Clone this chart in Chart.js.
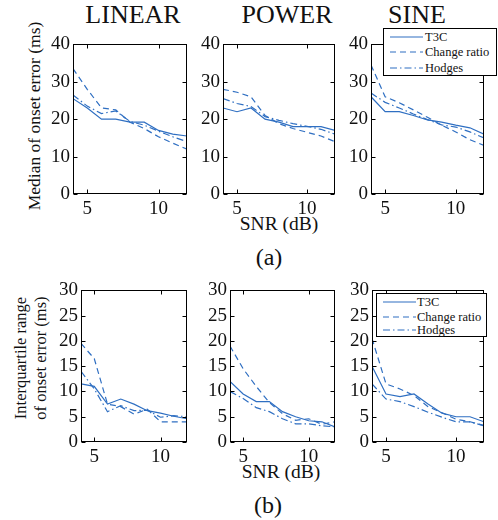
<!DOCTYPE html>
<html>
<head>
<meta charset="utf-8">
<script src="https://cdn.jsdelivr.net/npm/chart.js@4.4.0/dist/chart.umd.min.js"></script>
<style>
  body { margin: 0; background: #fff; width: 498px; height: 520px; position: relative; overflow: hidden;
         font-family: "Liberation Serif", "Times New Roman", serif; color: #111; }
  canvas { position: absolute; }
  .lbl { position: absolute; transform: translate(-50%, -50%); white-space: nowrap; line-height: 1; }
  .rot { position: absolute; transform: translate(-50%, -50%) rotate(-90deg); white-space: nowrap; text-align: center; }
  .legend { position: absolute; border: 1px solid #000; background: #fff; box-sizing: border-box; font-size: 12.5px; }
  .legend .row { position: absolute; left: 0; right: 0; height: 14px; }
  .legend svg { position: absolute; left: 6px; top: 4px; }
  .legend span { position: absolute; left: 41px; top: 0; line-height: 14px; white-space: nowrap; }
</style>
</head>
<body>

<div class="lbl" style="left:133px;top:15px;font-size:26px">LINEAR</div>
<div class="lbl" style="left:287px;top:15px;font-size:26px">POWER</div>
<div class="lbl" style="left:417px;top:15px;font-size:26px">SINE</div>

<div class="rot" style="left:35px;top:116px;font-size:17.5px;line-height:1">Median of onset error (ms)</div>
<div class="rot" style="left:31px;top:358px;font-size:16.5px;line-height:20px">Interquartile range<br>of onset error (ms)</div>

<div class="lbl" style="left:279px;top:224px;font-size:19.5px">SNR (dB)</div>
<div class="lbl" style="left:281px;top:472px;font-size:19.5px">SNR (dB)</div>
<div class="lbl" style="left:269px;top:257px;font-size:24px">(a)</div>
<div class="lbl" style="left:268px;top:505px;font-size:24px">(b)</div>

<canvas id="c1"></canvas>
<canvas id="c2"></canvas>
<canvas id="c3"></canvas>
<canvas id="c4"></canvas>
<canvas id="c5"></canvas>
<canvas id="c6"></canvas>

<script>
// x axis: SNR in dB
const snr = [4, 5, 6, 7, 8, 9, 10, 11, 12];
const xTicks = [5, 10];
const medianTicks = [0, 10, 20, 30, 40];
const iqrTicks = [0, 5, 10, 15, 20, 25, 30];
const seriesNames = ['T3C', 'Change ratio', 'Hodges'];

// (a) median of onset error (ms)
const medLinearT3C    = [25.5, 23, 20, 20, 19.2, 19.2, 17, 16, 15.5];
const medLinearRatio  = [33.5, 28, 23, 22.5, 19.2, 17.5, 15.3, 13.6, 12];
const medLinearHodges = [26.5, 23.5, 21.5, 22.2, 19.4, 18.4, 16.8, 15.3, 14];

const medPowerT3C    = [23, 22, 23, 20, 19.2, 18, 18, 18, 17];
const medPowerRatio  = [28, 27.2, 26, 21, 18.8, 17.5, 16.5, 15.5, 14];
const medPowerHodges = [25.5, 24.2, 23.4, 20.7, 19.7, 18.8, 18.1, 17.3, 16];

const medSineT3C    = [26, 22, 22, 21, 19.8, 19.2, 18.4, 17.7, 16];
const medSineRatio  = [34.5, 26, 24.4, 22.5, 20.5, 18.4, 16.6, 14.5, 13];
const medSineHodges = [27, 24.5, 23, 21.4, 19.9, 18.5, 17.9, 16.6, 15];

// (b) interquartile range of onset error (ms)
const iqrLinearT3C    = [11.5, 11, 7.5, 8.5, 7.5, 6.2, 5.7, 5.1, 4.6];
const iqrLinearRatio  = [19.5, 16.5, 7.5, 7, 5.5, 6.5, 4, 4, 4];
const iqrLinearHodges = [14, 10.5, 6, 7.2, 6.2, 6.3, 4.9, 5.2, 5];

const iqrPowerT3C    = [12, 9.5, 8, 8, 6, 5, 4.2, 4, 3];
const iqrPowerRatio  = [19, 14.5, 11, 7.8, 5.6, 4.3, 4.6, 3.5, 4];
const iqrPowerHodges = [10, 8.6, 6.8, 6, 4.6, 3.6, 3.6, 3.2, 3];

const iqrSineT3C    = [15, 9.5, 9, 9.5, 7.5, 5.7, 5, 5, 4];
const iqrSineRatio  = [20.5, 11.5, 10.5, 9.2, 7, 5.8, 4.5, 4, 3.3];
const iqrSineHodges = [11.5, 8.5, 8, 7, 5.9, 4.9, 4, 4, 3.2];

const BLUE = '#2f6fc2';
const DASHES = [[], [6, 4], [7, 3, 1.5, 3]];
const YW = 40, PT = 10, PR = 3, XH = 24;
const tickFont = { family: '"Liberation Serif", "Times New Roman", serif', size: 19 };

// box frame with inward ticks on all sides, matlab style
const framePlugin = {
  id: 'frame',
  afterDatasetsDraw(chart) {
    const { ctx, chartArea: a, scales: { x, y } } = chart;
    const l = Math.round(a.left) + 0.5, r = Math.round(a.right) - 0.5;
    const t = Math.round(a.top) + 0.5, b = Math.round(a.bottom) - 0.5;
    ctx.save();
    ctx.strokeStyle = '#000';
    ctx.lineWidth = 1;
    ctx.strokeRect(l, t, r - l, b - t);
    ctx.beginPath();
    x.ticks.forEach(tk => {
      const px = Math.round(x.getPixelForValue(tk.value)) + 0.5;
      ctx.moveTo(px, b); ctx.lineTo(px, b - 4);
      ctx.moveTo(px, t); ctx.lineTo(px, t + 4);
    });
    y.ticks.forEach(tk => {
      const py = Math.round(y.getPixelForValue(tk.value)) + 0.5;
      ctx.moveTo(l, py); ctx.lineTo(l + 4, py);
      ctx.moveTo(r, py); ctx.lineTo(r - 4, py);
    });
    ctx.stroke();
    ctx.restore();
  }
};

function makePanel(id, box, series, yTicks) {
  const canvas = document.getElementById(id);
  const w = YW + (box.right - box.left) + PR;
  const h = PT + (box.bottom - box.top) + XH;
  canvas.width = w;
  canvas.height = h;
  canvas.style.left = (box.left - YW) + 'px';
  canvas.style.top = (box.top - PT) + 'px';
  canvas.style.width = w + 'px';
  canvas.style.height = h + 'px';

  return new Chart(canvas.getContext('2d'), {
    type: 'line',
    data: {
      datasets: series.map((vals, i) => ({
        label: seriesNames[i],
        data: snr.map((s, k) => ({ x: s, y: vals[k] })),
        borderColor: BLUE,
        borderDash: DASHES[i],
        borderWidth: 1.2,
        pointRadius: 0,
        tension: 0,
        fill: false
      }))
    },
    options: {
      responsive: false,
      animation: false,
      devicePixelRatio: 1,
      layout: { padding: { top: PT, right: PR, left: 0, bottom: 0 } },
      plugins: { legend: { display: false }, tooltip: { enabled: false } },
      scales: {
        x: {
          type: 'linear', min: 4, max: 12,
          afterBuildTicks: s => { s.ticks = xTicks.map(v => ({ value: v })); },
          afterFit: s => { s.height = XH; },
          grid: { display: false, drawTicks: false },
          border: { display: false },
          ticks: { padding: 4, font: tickFont, color: '#111', maxRotation: 0, autoSkip: false }
        },
        y: {
          type: 'linear', min: 0, max: yTicks[yTicks.length - 1],
          afterBuildTicks: s => { s.ticks = yTicks.map(v => ({ value: v })); },
          afterFit: s => { s.width = YW; },
          grid: { display: false, drawTicks: false },
          border: { display: false },
          ticks: { padding: 3, font: tickFont, color: '#111', autoSkip: false }
        }
      }
    },
    plugins: [framePlugin]
  });
}

makePanel('c1', { left: 73, top: 40, right: 187, bottom: 194 },
  [medLinearT3C, medLinearRatio, medLinearHodges], medianTicks);
makePanel('c2', { left: 223, top: 40, right: 335, bottom: 194 },
  [medPowerT3C, medPowerRatio, medPowerHodges], medianTicks);
makePanel('c3', { left: 371, top: 40, right: 484, bottom: 194 },
  [medSineT3C, medSineRatio, medSineHodges], medianTicks);
makePanel('c4', { left: 81, top: 286, right: 187, bottom: 442 },
  [iqrLinearT3C, iqrLinearRatio, iqrLinearHodges], iqrTicks);
makePanel('c5', { left: 230, top: 286, right: 335, bottom: 442 },
  [iqrPowerT3C, iqrPowerRatio, iqrPowerHodges], iqrTicks);
makePanel('c6', { left: 372, top: 286, right: 484, bottom: 442 },
  [iqrSineT3C, iqrSineRatio, iqrSineHodges], iqrTicks);

// legends drawn as html boxes over the SINE panels
function addLegend(left, top, width, height, rowTops, textLeft) {
  const div = document.createElement('div');
  div.className = 'legend';
  Object.assign(div.style, { left: left + 'px', top: top + 'px', width: width + 'px', height: height + 'px' });
  seriesNames.forEach((name, i) => {
    const row = document.createElement('div');
    row.className = 'row';
    row.style.top = rowTops[i] + 'px';
    const dash = DASHES[i].length ? `stroke-dasharray="${DASHES[i].join(' ')}"` : '';
    row.innerHTML = `<svg width="33" height="6"><line x1="0" y1="3" x2="33" y2="3" stroke="${BLUE}" stroke-width="1.2" ${dash}/></svg><span style="left:${textLeft}px">${name}</span>`;
    div.appendChild(row);
  });
  document.body.appendChild(div);
}

addLegend(383, 28, 114, 48, [1, 16, 32], 41);
addLegend(376, 293, 111, 44, [1, 15.5, 29], 40);
</script>
</body>
</html>
